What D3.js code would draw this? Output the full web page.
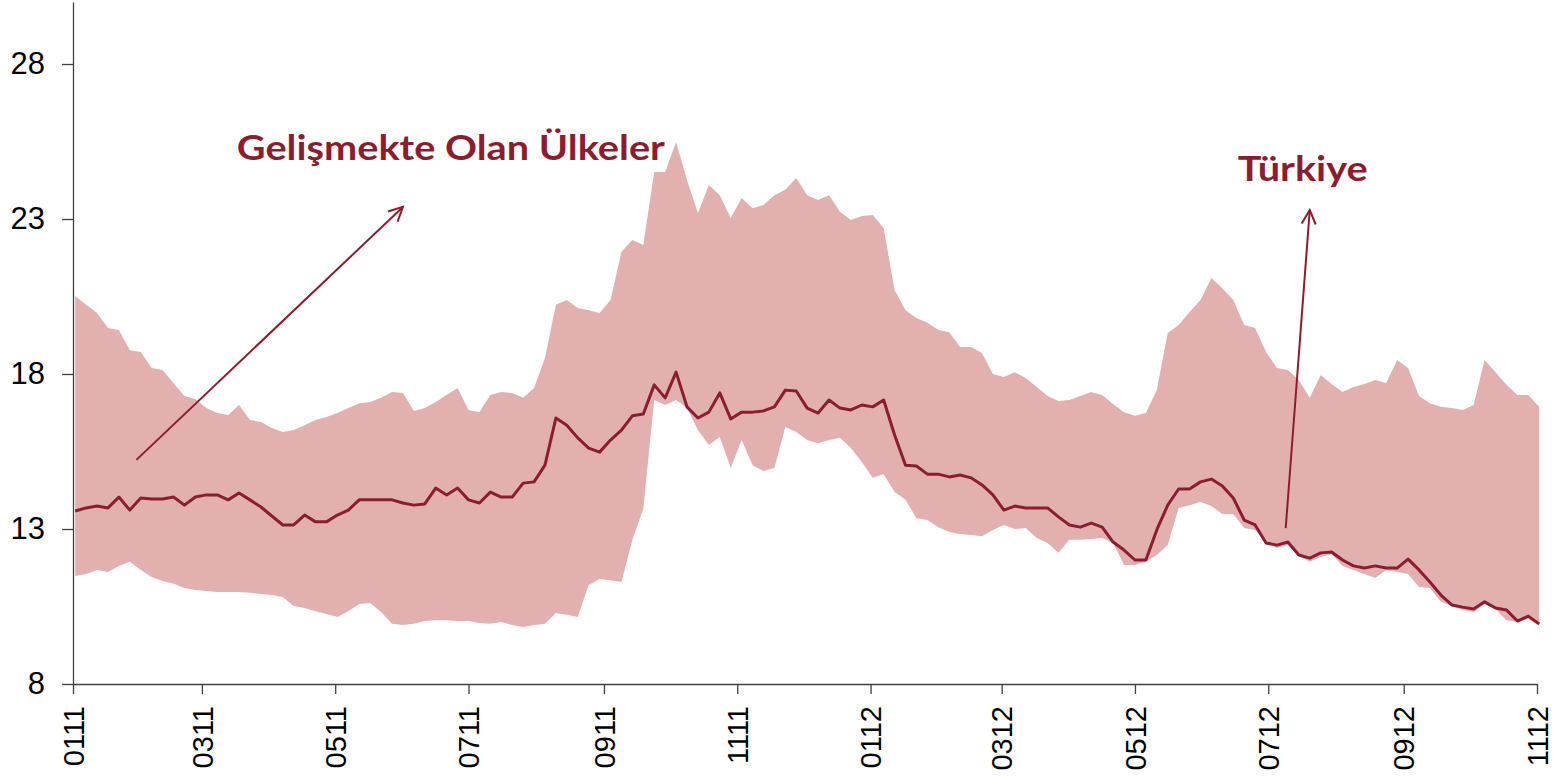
<!DOCTYPE html>
<html>
<head>
<meta charset="utf-8">
<script src="https://cdn.jsdelivr.net/npm/d3@7"></script>
<style>
  body { margin: 0; background: #fff; }
  svg { display: block; font-family: "Liberation Sans", Arial, sans-serif; }
  .axis path, .axis line { stroke: #404040; stroke-width: 1.3; }
  .axis text { fill: #000; font-family: "Liberation Sans", Arial, sans-serif; }
  .axis.y text { font-size: 31px; }
  .axis.x text { font-size: 29px; }
  .note { font-family: Lato, "Open Sans", sans-serif; font-weight: bold; fill: #8c1d2e; }
</style>
</head>
<body>
<div id="chart"></div>
<script>
// Ülke tahvil getirileri: gelişmekte olan ülkeler aralığı ve Türkiye

// veriler (5 günlük adımlar, 02.01.2011 - 02.11.2012)
let upperBand = [
  20.52, 20.23, 19.97, 19.48, 19.42, 18.77, 18.71, 18.19, 18.13, 17.71,
  17.29, 17.19, 16.90, 16.74, 16.68, 17.00, 16.52, 16.45, 16.26, 16.13,
  16.19, 16.35, 16.52, 16.61, 16.74, 16.90, 17.06, 17.10, 17.23, 17.42,
  17.39, 16.81, 16.90, 17.10, 17.32, 17.55, 16.84, 16.77, 17.32, 17.42,
  17.39, 17.23, 17.55, 18.52, 20.23, 20.39, 20.13, 20.06, 19.97, 20.39,
  21.94, 22.32, 22.16, 24.52, 24.52, 25.48, 24.26, 23.19, 24.10, 23.77,
  23.03, 23.68, 23.35, 23.45, 23.77, 23.94, 24.32, 23.77, 23.61, 23.77,
  23.23, 22.97, 23.10, 23.13, 22.71, 20.71, 20.06, 19.81, 19.65, 19.42,
  19.35, 18.87, 18.87, 18.68, 18.00, 17.90, 18.06, 17.87, 17.58, 17.29,
  17.13, 17.16, 17.29, 17.42, 17.32, 17.03, 16.77, 16.65, 16.74, 17.48,
  19.32, 19.58, 20.00, 20.39, 21.10, 20.77, 20.39, 19.58, 19.48, 18.71,
  18.19, 18.13, 17.81, 17.23, 17.97, 17.68, 17.42, 17.58, 17.68, 17.81,
  17.71, 18.45, 18.19, 17.29, 17.06, 16.94, 16.90, 16.84, 17.00, 18.45,
  18.06, 17.65, 17.32, 17.32, 16.94
]

let lowerBand = [
  11.48, 11.55, 11.68, 11.61, 11.81, 11.94, 11.68, 11.45, 11.32, 11.23,
  11.10, 11.03, 11.00, 10.97, 10.97, 10.97, 10.94, 10.90, 10.87, 10.81,
  10.52, 10.45, 10.35, 10.26, 10.16, 10.35, 10.58, 10.61, 10.32, 9.94,
  9.90, 9.94, 10.03, 10.06, 10.06, 10.03, 10.03, 9.97, 9.94, 10.00,
  9.90, 9.84, 9.90, 9.94, 10.29, 10.23, 10.16, 11.19, 11.39, 11.35,
  11.29, 12.65, 13.65, 17.16, 17.00, 17.16, 16.90, 16.19, 15.71, 15.97,
  14.97, 15.87, 15.06, 14.87, 14.97, 16.29, 16.13, 15.87, 15.77, 15.87,
  15.94, 15.61, 15.16, 14.65, 14.77, 14.19, 13.94, 13.35, 13.29, 13.06,
  12.90, 12.84, 12.81, 12.77, 12.97, 13.13, 13.00, 13.03, 12.71, 12.55,
  12.23, 12.65, 12.65, 12.68, 12.71, 12.55, 11.84, 11.84, 11.94, 12.16,
  12.48, 13.68, 13.77, 13.87, 13.74, 13.48, 13.48, 13.03, 12.97, 12.58,
  12.39, 12.48, 12.13, 11.94, 12.10, 12.19, 11.81, 11.68, 11.55, 11.42,
  11.68, 11.61, 11.55, 11.13, 11.10, 10.65, 10.52, 10.39, 10.32, 10.58,
  10.42, 10.06, 10.00, 10.10, 9.87
]

let turkiye = [
  13.58, 13.68, 13.74, 13.68, 14.03, 13.61, 14.00, 13.97, 13.97, 14.03,
  13.77, 14.03, 14.10, 14.10, 13.94, 14.16, 13.94, 13.71, 13.42, 13.13,
  13.13, 13.45, 13.23, 13.23, 13.45, 13.61, 13.94, 13.94, 13.94, 13.94,
  13.84, 13.77, 13.81, 14.32, 14.10, 14.32, 13.94, 13.84, 14.19, 14.03,
  14.03, 14.48, 14.52, 15.06, 16.58, 16.35, 15.94, 15.61, 15.48, 15.87,
  16.19, 16.65, 16.71, 17.65, 17.23, 18.06, 16.94, 16.58, 16.77, 17.39,
  16.55, 16.77, 16.77, 16.81, 16.94, 17.48, 17.45, 16.90, 16.74, 17.16,
  16.90, 16.84, 17.00, 16.94, 17.16, 16.03, 15.06, 15.03, 14.77, 14.77,
  14.68, 14.74, 14.65, 14.42, 14.10, 13.61, 13.74, 13.68, 13.68, 13.68,
  13.39, 13.13, 13.06, 13.19, 13.06, 12.58, 12.32, 12.00, 12.00, 12.97,
  13.77, 14.29, 14.29, 14.52, 14.61, 14.39, 14.00, 13.29, 13.13, 12.55,
  12.48, 12.58, 12.16, 12.06, 12.23, 12.26, 12.00, 11.81, 11.74, 11.81,
  11.74, 11.74, 12.03, 11.68, 11.29, 10.87, 10.55, 10.48, 10.42, 10.65,
  10.45, 10.39, 10.03, 10.19, 9.94
]

let yTicks = [8, 13, 18, 23, 28]

// açıklamalar (tarih, değer)
let notes = [
  { text: "Gelişmekte Olan Ülkeler", date: new Date(2011, 2, 17), value: 24.9, width: 428 },
  { text: "Türkiye", date: new Date(2012, 5, 17), value: 24.23, width: 130 }
]
let arrows = [
  { from: [new Date(2011, 0, 30), 15.23], to: [new Date(2011, 5, 1), 23.39] },
  { from: [new Date(2012, 6, 9), 13.03], to: [new Date(2012, 6, 20), 23.29] }
]

let dates = d3.timeDay.range(new Date(2011, 0, 2), new Date(2012, 10, 3), 5).slice(0, turkiye.length)
let data = dates.map((d, i) => ({ date: d, hi: upperBand[i], lo: lowerBand[i], tr: turkiye[i] }))

// thông số
let width = 1568,
    height = 781,
    x0 = 73, x1 = 1537,
    yTop = 2, yBottom = 684

let svg = d3.select("#chart").append("svg")
    .attr("width", width)
    .attr("height", height)

let x = d3.scaleTime()
    .domain([new Date(2011, 0, 1), new Date(2012, 10, 1)])
    .range([x0, x1])
let y = d3.scaleLinear().domain([8, 30]).range([yBottom, yTop])

// bant
let area = d3.area()
    .x(d => x(d.date))
    .y0(d => y(d.lo))
    .y1(d => y(d.hi))

svg.append("path")
    .datum(data)
    .attr("fill", "#e3b0b0")
    .attr("d", area)

// Türkiye
let line = d3.line()
    .x(d => x(d.date))
    .y(d => y(d.tr))

svg.append("path")
    .datum(data)
    .attr("fill", "none")
    .attr("stroke", "#8c1d2e")
    .attr("stroke-width", 3)
    .attr("stroke-linejoin", "round")
    .attr("d", line)

// eksenler
let axisY = d3.axisLeft(y).tickValues(yTicks).tickSize(11).tickPadding(17).tickSizeOuter(0)
svg.append("g")
    .attr("class", "axis y")
    .attr("transform", `translate(${x0},0)`)
    .call(axisY)

let axisX = d3.axisBottom(x)
    .ticks(d3.timeMonth.every(2))
    .tickFormat(d3.timeFormat("%m%y"))
    .tickSize(10)
    .tickSizeOuter(0)

let gx = svg.append("g")
    .attr("class", "axis x")
    .attr("transform", `translate(0,${yBottom})`)
    .call(axisX)

gx.selectAll("text")
    .attr("transform", "rotate(-90)")
    .attr("x", -22)
    .attr("y", 0)
    .attr("dy", "0.35em")
    .attr("text-anchor", "end")

// oklar
svg.append("defs").append("marker")
    .attr("id", "head")
    .attr("markerUnits", "userSpaceOnUse")
    .attr("viewBox", "-16 -10 20 20")
    .attr("markerWidth", 20)
    .attr("markerHeight", 20)
    .attr("refX", 0)
    .attr("refY", 0)
    .attr("orient", "auto")
  .append("path")
    .attr("d", "M-14,-7L0,0L-14,7")
    .attr("fill", "none")
    .attr("stroke", "#8c1d2e")
    .attr("stroke-width", 2)

svg.selectAll(".arrow").data(arrows).enter().append("line")
    .attr("class", "arrow")
    .attr("x1", d => x(d.from[0]))
    .attr("y1", d => y(d.from[1]))
    .attr("x2", d => x(d.to[0]))
    .attr("y2", d => y(d.to[1]))
    .attr("stroke", "#8c1d2e")
    .attr("stroke-width", 2)
    .attr("marker-end", "url(#head)")

svg.selectAll(".note").data(notes).enter().append("text")
    .attr("class", "note")
    .attr("x", d => x(d.date))
    .attr("y", d => y(d.value))
    .attr("font-size", 35)
    .attr("textLength", d => d.width)
    .attr("lengthAdjust", "spacingAndGlyphs")
    .text(d => d.text)
</script>
</body>
</html>
